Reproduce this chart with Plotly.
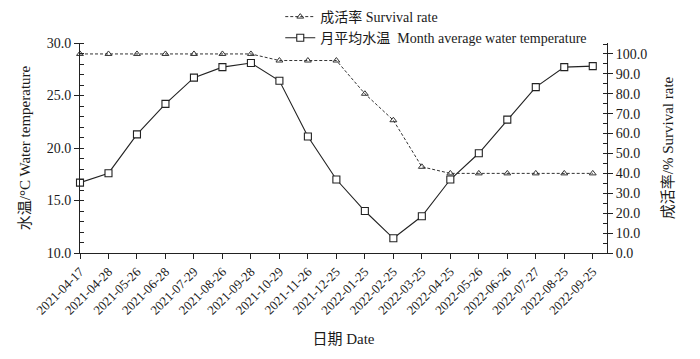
import plotly.graph_objects as go

dates = ["2021-04-17", "2021-04-28", "2021-05-26", "2021-06-28", "2021-07-29",
         "2021-08-26", "2021-09-28", "2021-10-29", "2021-11-26", "2021-12-25",
         "2022-01-25", "2022-02-25", "2022-03-25", "2022-04-25", "2022-05-26",
         "2022-06-26", "2022-07-27", "2022-08-25", "2022-09-25"]
temperature = [16.7, 17.6, 21.3, 24.2, 26.7, 27.7, 28.1, 26.4, 21.1, 17.0,
               14.0, 11.4, 13.5, 17.0, 19.5, 22.7, 25.8, 27.7, 27.8]
survival = [100.0, 100.0, 100.0, 100.0, 100.0, 100.0, 100.0, 96.7, 96.7, 96.7,
            80.0, 66.7, 43.3, 40.0, 40.0, 40.0, 40.0, 40.0, 40.0]

FONT = "Liberation Serif, Times New Roman, Noto Sans CJK SC, serif"

fig = go.Figure()
fig.add_trace(go.Scatter(
    x=dates, y=survival, yaxis="y2", name="成活率 Survival rate",
    mode="lines+markers", cliponaxis=False,
    line=dict(color="#333333", width=1, dash="3px,2px"),
    marker=dict(symbol="triangle-up-open", size=6, color="#333333", line=dict(width=1))))
fig.add_trace(go.Scatter(
    x=dates, y=temperature, name="月平均水温  Month average water temperature",
    mode="lines+markers", cliponaxis=False,
    line=dict(color="#222222", width=1.1),
    marker=dict(symbol="square", size=7, color="white", line=dict(color="#222222", width=1.1))))

fig.update_layout(
    width=692, height=351,
    margin=dict(l=72, r=93, t=35, b=106, autoexpand=False),
    paper_bgcolor="white", plot_bgcolor="white",
    font=dict(family=FONT, size=13, color="#1a1a1a"),
    showlegend=True,
    legend=dict(x=0.38, y=1.2, xanchor="left", yanchor="top",
                bgcolor="rgba(0,0,0,0)", font=dict(size=14), tracegroupgap=0,
                itemwidth=30),
    xaxis=dict(type="category", range=[0, 18.5], tickangle=-45, automargin=False,
               showline=True, linecolor="#222222", linewidth=1,
               ticks="outside", ticklen=5, tickcolor="#222222",
               showgrid=False, zeroline=False,
               tickfont=dict(size=13),
               title=dict(text="日期 Date", font=dict(size=15), standoff=16)),
    yaxis=dict(range=[10, 30], dtick=5, tickformat=".1f", automargin=False,
               showline=True, linecolor="#222222", linewidth=1,
               ticks="outside", ticklen=5, tickcolor="#222222",
               minor=dict(dtick=1, ticks="inside", ticklen=4, tickcolor="#222222"),
               showgrid=False, zeroline=False, tickfont=dict(size=14),
               title=dict(text="水温/°C Water temperature", font=dict(size=15), standoff=12)),
    yaxis2=dict(range=[0, 105.5], dtick=10, tickformat=".1f", overlaying="y", side="right",
                automargin=False,
                showline=True, linecolor="#222222", linewidth=1,
                ticks="outside", ticklen=5, tickcolor="#222222",
                minor=dict(dtick=5, ticks="inside", ticklen=4, tickcolor="#222222"),
                showgrid=False, zeroline=False, tickfont=dict(size=14),
                title=dict(text="成活率/% Survival rate", font=dict(size=15), standoff=16)),
)

fig.write_html("out.html")
